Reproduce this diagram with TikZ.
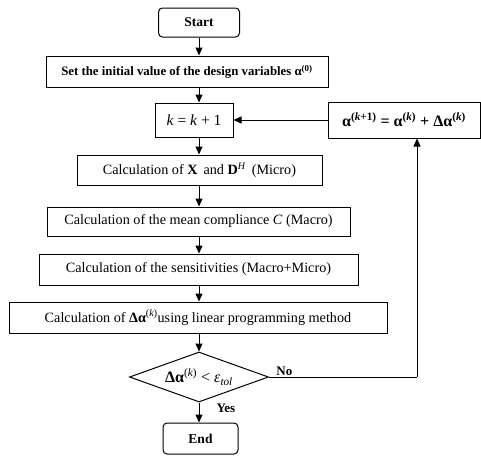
\documentclass[tikz,border=0pt]{standalone}
\usepackage{amsmath}
\usepackage{fontspec}
\setmainfont{Liberation Serif}
\usepackage{xcolor}
\usepackage{tikz}
\usetikzlibrary{arrows.meta, shapes.geometric, positioning}

\begin{document}
\begin{tikzpicture}[
    x=1pt, y=-1pt,
    box/.style={
      rectangle, draw=black, line width=1pt,
      inner sep=2pt, text centered,
      font=\fontsize{14.2}{16}\selectfont
    },
    boldbox/.style={box, font=\fontsize{12.8}{15}\selectfont\bfseries},
    term/.style={box, rounded corners=4pt, font=\fontsize{13.5}{15}\selectfont\bfseries},
    dec/.style={diamond, draw=black, line width=1pt, inner sep=0pt,
      aspect=2.8, font=\fontsize{16}{18}\selectfont},
    arr/.style={-{Triangle[length=8pt, width=7pt]}, line width=1pt},
    lbl/.style={font=\fontsize{13}{15}\selectfont\bfseries, inner sep=1pt}
  ]
  \useasboundingbox (0,0) rectangle (481,455);

  % main column
  \node[term, minimum width=81pt, minimum height=29pt] (start) at (199,22.5) {Start};
  \node[boldbox, minimum width=282pt, minimum height=31pt]
    (init) at (187,71.5) {Set the initial value of the design variables α\textsuperscript{(0)}};
  \node[box, minimum width=78pt, minimum height=34pt, font=\fontsize{15.5}{17}\selectfont]
    (kbox) at (194,120) {\textit{k} = \textit{k} + 1};
  \node[box, minimum width=245pt, minimum height=30pt] (xbox) at (199.5,170)
    {Calculation of \textbf{X}\, and \textbf{D}\textsuperscript{\textit{H}}\, (Micro)};
  \node[box, minimum width=303pt, minimum height=29pt] (comp) at (198.5,221.5)
    {Calculation of the mean compliance \textit{C} (Macro)};
  \node[box, minimum width=319pt, minimum height=31pt] (sens) at (198.5,269.5)
    {Calculation of the sensitivities (Macro+Micro)};
  \node[box, minimum width=378pt, minimum height=31pt] (dalpha) at (198,317.5)
    {Calculation of \textbf{Δα}\textsuperscript{(\textit{k})}using linear programming method};
  \node[dec, minimum width=139pt, minimum height=50pt] (cond) at (199,377)
    {\textbf{Δα}\textsuperscript{(\textit{k})} < \textit{ε}\textsubscript{\textit{tol}}};
  \node[term, minimum width=75pt, minimum height=31pt] (end) at (200.5,438.5) {End};

  % update box on the right
  \node[boldbox, minimum width=152pt, minimum height=36pt, font=\fontsize{16}{18}\selectfont\bfseries]
    (upd) at (404,120)
    {α\textsuperscript{(\textit{k}+1)} = α\textsuperscript{(\textit{k})} + Δα\textsuperscript{(\textit{k})}};
  \coordinate (turn) at (417,377);

  % arrows
  \draw[arr] (start.south -| 199,0) -- (init.north -| 199,0);
  \draw[arr] (init.south -| 199,0) -- (kbox.north -| 199,0);
  \draw[arr] (kbox.south -| 199,0) -- (xbox.north -| 199,0);
  \draw[arr] (xbox.south -| 199,0) -- (comp.north -| 199,0);
  \draw[arr] (comp.south -| 199,0) -- (sens.north -| 199,0);
  \draw[arr] (sens.south -| 199,0) -- (dalpha.north -| 199,0);
  \draw[arr] (dalpha.south -| 199,0) -- (cond.north);
  \draw[arr] (cond.south) -- (end.north -| cond.south)
    node[lbl, pos=0.3, right=16pt] {Yes};
  \draw[line width=1pt] (cond.east) -- (turn)
    node[lbl, pos=0.04, above right=0pt and 0pt] {No};
  \draw[arr] (turn) -- (turn |- upd.south);
  \draw[arr] (upd.west) -- (kbox.east);

\end{tikzpicture}
\end{document}
